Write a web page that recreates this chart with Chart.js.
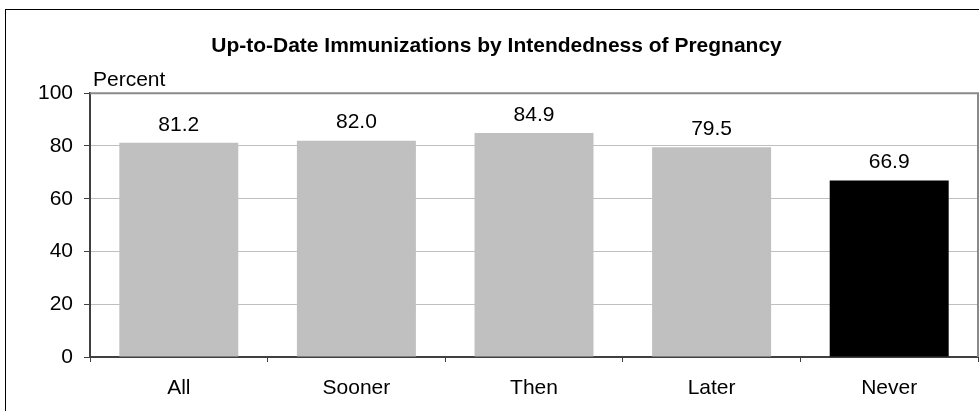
<!DOCTYPE html>
<html>
<head>
<meta charset="utf-8">
<script src="https://cdn.jsdelivr.net/npm/chart.js@4.4.1/dist/chart.umd.min.js"></script>
<style>
  html, body { margin: 0; padding: 0; background: #ffffff; }
  #wrap { width: 979px; height: 411px; position: relative; }
  canvas { display: block; }
</style>
</head>
<body>
<div id="wrap"><canvas id="c" width="979" height="411"></canvas></div>
<script>
const chartTitle = "Up-to-Date Immunizations by Intendedness of Pregnancy";
const yAxisLabel = "Percent";
const categories = ["All", "Sooner", "Then", "Later", "Never"];
const values = [81.2, 82.0, 84.9, 79.5, 66.9];
const barColors = ["#c0c0c0", "#c0c0c0", "#c0c0c0", "#c0c0c0", "#000000"];
const yTicks = [0, 20, 40, 60, 80, 100];

const FONT = '"Liberation Sans", Arial, Helvetica, sans-serif';
Chart.defaults.font.family = FONT;
Chart.defaults.color = '#000000';

const decorPlugin = {
  id: 'decor',
  beforeDraw(chart) {
    const ctx = chart.ctx;
    ctx.save();
    ctx.fillStyle = '#ffffff';
    ctx.fillRect(0, 0, chart.width, chart.height);
    ctx.restore();
  },
  afterDraw(chart) {
    const ctx = chart.ctx;
    const a = chart.chartArea;
    ctx.save();
    // plot area top and right border
    ctx.strokeStyle = '#8a8a8a';
    ctx.lineWidth = 2;
    ctx.beginPath();
    ctx.moveTo(a.left, a.top);
    ctx.lineTo(a.right, a.top);
    ctx.lineTo(a.right, a.bottom);
    ctx.stroke();
    // outer frame
    ctx.strokeStyle = '#000000';
    ctx.lineWidth = 1;
    ctx.strokeRect(5.5, 9.5, 1000, 500);
    // "Percent" label
    ctx.fillStyle = '#000000';
    ctx.font = '21px ' + FONT;
    ctx.textAlign = 'left';
    ctx.textBaseline = 'middle';
    ctx.fillText(yAxisLabel, a.left + 3, 80);
    // value labels
    const meta = chart.getDatasetMeta(0);
    meta.data.forEach((bar, i) => {
      ctx.textAlign = 'center';
      ctx.fillText(values[i].toFixed(1), bar.x, bar.y - 18);
    });
    ctx.restore();
  }
};

new Chart(document.getElementById('c'), {
  type: 'bar',
  data: {
    labels: categories,
    datasets: [{
      data: values,
      backgroundColor: barColors,
      borderWidth: 0,
      barPercentage: 0.67,
      categoryPercentage: 1.0
    }]
  },
  options: {
    responsive: false,
    animation: false,
    layout: { padding: { left: 15, right: 1, top: 0, bottom: 0 } },
    plugins: {
      legend: { display: false },
      tooltip: { enabled: false },
      title: {
        display: true,
        text: chartTitle,
        color: '#000000',
        font: { size: 21, weight: 'bold', family: FONT, lineHeight: 1.2 },
        padding: { top: 34, bottom: 34 }
      }
    },
    scales: {
      y: {
        min: 0,
        max: 100,
        afterFit(scale) { scale.width = 75; },
        afterBuildTicks(scale) { scale.ticks = yTicks.map(v => ({ value: v })); },
        ticks: { font: { size: 21 }, color: '#000000', padding: 11 },
        grid: { color: '#c0c0c0', lineWidth: 1, tickColor: '#404040', tickLength: 6, drawTicks: true },
        border: { display: true, color: '#404040', width: 2 }
      },
      x: {
        afterFit(scale) { scale.height = 54; },
        offset: true,
        ticks: { font: { size: 21 }, color: '#000000', padding: 14 },
        grid: { offset: true, drawOnChartArea: false, drawTicks: true, tickLength: 5, tickColor: '#404040' },
        border: { display: true, color: '#404040', width: 2 }
      }
    }
  },
  plugins: [decorPlugin]
});
</script>
</body>
</html>
